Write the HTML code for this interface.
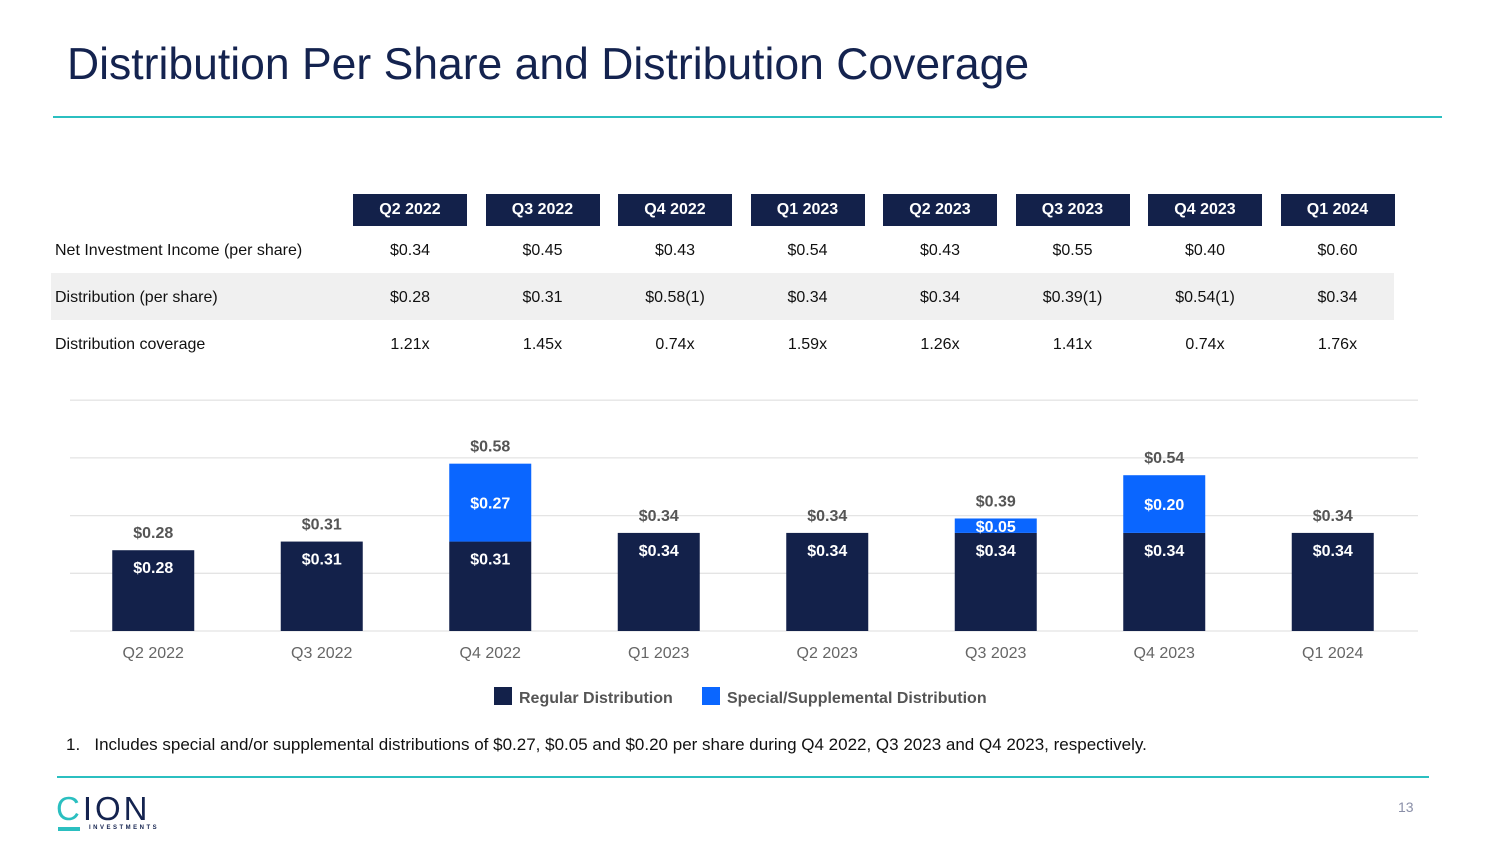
<!DOCTYPE html>
<html><head><meta charset="utf-8"><style>
body{margin:0;width:1500px;height:844px;background:#fff;font-family:"Liberation Sans",sans-serif;position:relative;overflow:hidden}
.abs{position:absolute}
.title{left:67px;top:40px;font-size:44.5px;color:#14234f}
.hdr{position:absolute;top:194px;width:114px;height:32px;background:#13214a;color:#fff;font-weight:bold;font-size:16px;line-height:32px;text-align:center}
.cell{position:absolute;width:130px;text-align:center;font-size:16px;color:#111}
.lbl{position:absolute;left:55px;font-size:16px;color:#111}
</style></head><body>
<div class="abs title">Distribution Per Share and Distribution Coverage</div>
<div class="abs" style="left:53px;top:116px;width:1389px;height:2px;background:#2bbfc0"></div>
<div class="abs" style="left:51px;top:273px;width:1343px;height:47px;background:#f0f0f0"></div>
<div id="table"></div>
<svg class="abs" style="left:0;top:0" width="1500" height="844" id="chart"></svg>
<div class="abs" style="left:66px;top:735px;font-size:17px;color:#111">1.&nbsp;&nbsp; Includes special and/or supplemental distributions of $0.27, $0.05 and $0.20 per share during Q4 2022, Q3 2023 and Q4 2023, respectively.</div>
<div class="abs" style="left:57px;top:776px;width:1372px;height:2px;background:#2bbfc0"></div>
<div class="abs" style="left:56px;top:790px;font-size:33px;color:#14234f;letter-spacing:3px"><span style="color:#2bbfc0">C</span>ION</div>
<div class="abs" style="left:58px;top:827px;width:22px;height:4px;background:#2bbfc0"></div>
<div class="abs" style="left:89px;top:825px;font-size:6px;font-weight:bold;letter-spacing:2.5px;color:#14234f">INVESTMENTS</div>
<div class="abs" style="left:1398px;top:799px;font-size:14px;color:#8a8fa8">13</div>
<script>
const categories=["Q2 2022","Q3 2022","Q4 2022","Q1 2023","Q2 2023","Q3 2023","Q4 2023","Q1 2024"];
const nii=["$0.34","$0.45","$0.43","$0.54","$0.43","$0.55","$0.40","$0.60"];
const dist=["$0.28","$0.31","$0.58(1)","$0.34","$0.34","$0.39(1)","$0.54(1)","$0.34"];
const coverage=["1.21x","1.45x","0.74x","1.59x","1.26x","1.41x","0.74x","1.76x"];
const regular=[0.28,0.31,0.31,0.34,0.34,0.34,0.34,0.34];
const special=[0,0,0.27,0,0,0.05,0.20,0];
const gridTicks=[0,0.2,0.4,0.6,0.8];
const NS="http://www.w3.org/2000/svg";
const tbl=document.getElementById('table');
const rows=[["Net Investment Income (per share)",nii,252],["Distribution (per share)",dist,299],["Distribution coverage",coverage,346]];
categories.forEach((c,i)=>{const x=353+i*132.5;const h=document.createElement('div');h.className='hdr';h.style.left=x+'px';h.textContent=c;


tbl.appendChild(h);});
rows.forEach(r=>{const l=document.createElement('div');l.className='lbl';l.style.top=(r[2]-10)+'px';l.textContent=r[0];


tbl.appendChild(l);
r[1].forEach((v,i)=>{const d=document.createElement('div');d.className='cell';d.style.left=(345+i*132.5)+'px';d.style.top=(r[2]-10)+'px';d.textContent=v;


tbl.appendChild(d);});});
const svg=document.getElementById('chart');
const x0=70,x1=1418,base=631,scale=288.5,band=(x1-x0)/categories.length,bw=82;
const y=v=>base-v*scale;const xc=i=>x0+band*(i+0.5)-1;
function el(t,a,txt){const e=document.createElementNS(NS,t);for(const k in a)e.setAttribute(k,a[k]);if(txt!=null)e.textContent=txt;svg.appendChild(e);return e;}
gridTicks.forEach(t=>{const g=el('line',{x1:x0,x2:x1,y1:y(t),y2:y(t),stroke:'#e4e4e4','stroke-width':1.3});

});
categories.forEach((c,i)=>{
const cx=xc(i);
const r=el('rect',{x:cx-bw/2,y:y(regular[i]),width:bw,height:regular[i]*scale,fill:'#13214a'});


const rl=el('text',{x:cx,y:y(regular[i])+23,'text-anchor':'middle',fill:'#fff','font-weight':'bold','font-size':16},'$'+regular[i].toFixed(2));


const tot=regular[i]+special[i];
if(special[i]>0){
const s=el('rect',{x:cx-bw/2,y:y(tot),width:bw,height:special[i]*scale,fill:'#0a66ff'});


const sy=special[i]<0.1?y(regular[i])-1:(y(tot)+y(regular[i]))/2+6;
const sl=el('text',{x:cx,y:sy,'text-anchor':'middle',fill:'#fff','font-weight':'bold','font-size':16},'$'+special[i].toFixed(2));

}
const tl=el('text',{x:cx,y:y(tot)-12,'text-anchor':'middle',fill:'#555','font-weight':'bold','font-size':16},'$'+tot.toFixed(2));


const cl=el('text',{x:cx,y:658,'text-anchor':'middle',fill:'#666','font-size':16},c);


});
const l1=el('rect',{x:494,y:687,width:18,height:18,fill:'#13214a'});


const l1t=el('text',{x:519,y:703,fill:'#555','font-weight':'bold','font-size':16},'Regular Distribution');


const l2=el('rect',{x:702,y:687,width:18,height:18,fill:'#0a66ff'});


const l2t=el('text',{x:727,y:703,fill:'#555','font-weight':'bold','font-size':16},'Special/Supplemental Distribution');


</script>
</body></html>
